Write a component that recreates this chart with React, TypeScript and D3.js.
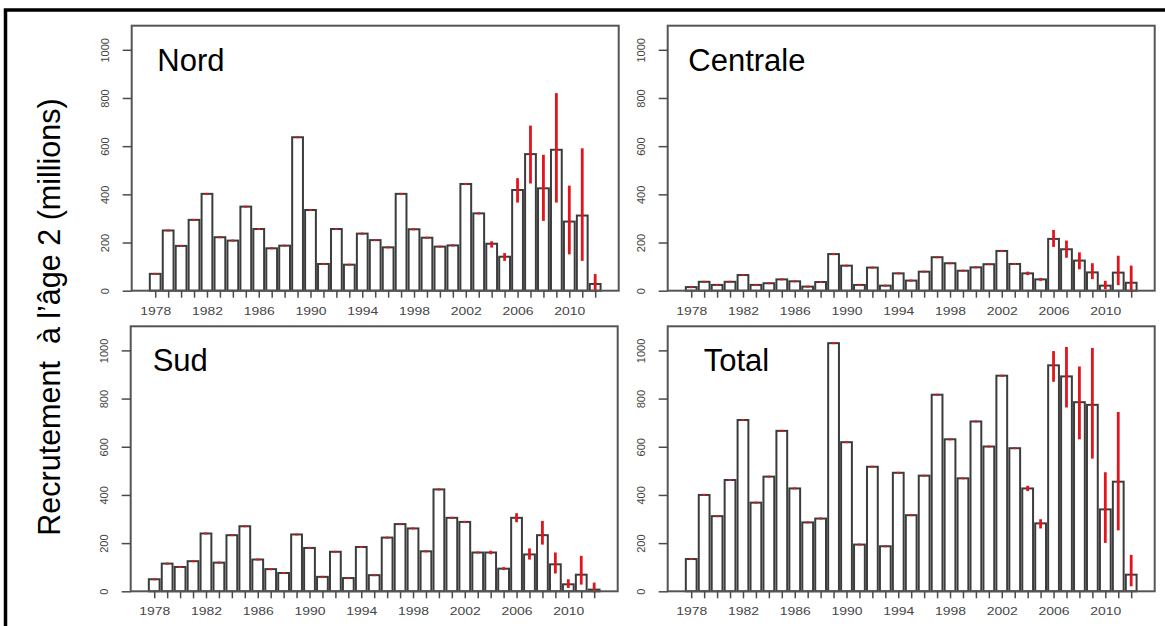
import React, { useEffect, useRef } from "react";
import * as d3 from "d3";

// years of the barplots (categories)
const years = [
  1978, 1979, 1980, 1981, 1982, 1983, 1984, 1985, 1986, 1987, 1988, 1989,
  1990, 1991, 1992, 1993, 1994, 1995, 1996, 1997, 1998, 1999, 2000, 2001,
  2002, 2003, 2004, 2005, 2006, 2007, 2008, 2009, 2010, 2011, 2012,
];
const labelYears = [1978, 1982, 1986, 1990, 1994, 1998, 2002, 2006, 2010];
const yTicks = [0, 200, 400, 600, 800, 1000];
// years that have a visible interval (red)
const errYears = [2004, 2005, 2006, 2007, 2008, 2009, 2010, 2011, 2012];

const nord = [
  70, 250, 186, 294, 402, 222, 208, 349, 256, 176, 187, 637, 335, 111, 256, 108,
  237, 210, 180, 402, 255, 220, 183, 188, 443, 321, 195, 141, 418, 567, 425, 585,
  287, 312, 28,
];
const nordLow = [183, 128, 370, 449, 294, 370, 155, 128, 0];
const nordHigh = [201, 152, 463, 681, 560, 816, 432, 587, 65];

const centrale = [
  15, 37, 24, 37, 65, 24, 31, 47, 39, 17, 36, 152, 104, 24, 96, 21, 72, 42, 79,
  139, 114, 83, 97, 110, 165, 111, 72, 47, 215, 172, 125, 76, 21, 75, 33,
];
const centraleLow = [69, 45, 186, 141, 93, 52, 10, 27, 0];
const centraleHigh = [75, 49, 248, 204, 155, 110, 37, 141, 100];

const sud = [
  50, 115, 101, 125, 240, 119, 233, 270, 132, 92, 76, 236, 180, 60, 164, 55, 184,
  67, 223, 279, 261, 166, 423, 305, 288, 161, 161, 94, 305, 153, 233, 112, 29, 69,
  7,
];
const sudLow = [158, 92, 291, 136, 198, 78, 18, 32, 0];
const sudHigh = [164, 96, 320, 174, 288, 157, 46, 143, 32];

const total = [
  134, 400, 312, 462, 711, 368, 476, 666, 427, 286, 302, 1030, 619, 194, 517, 187,
  492, 316, 480, 816, 631, 469, 705, 601, 895, 594, 427, 282, 938, 892, 785, 774,
  340, 455, 69,
];
const totalLow = [420, 265, 874, 767, 635, 555, 205, 257, 25];
const totalHigh = [434, 295, 993, 1010, 929, 1006, 490, 740, 147];

const panels = [
  { name: "Nord", values: nord, low: nordLow, high: nordHigh, left: 131.7, top: 25.7, titleDx: 25.6 },
  { name: "Centrale", values: centrale, low: centraleLow, high: centraleHigh, left: 667.7, top: 25.7, titleDx: 20.6 },
  { name: "Sud", values: sud, low: sudLow, high: sudHigh, left: 130.7, top: 326.3, titleDx: 22 },
  { name: "Total", values: total, low: totalLow, high: totalHigh, left: 667.7, top: 326.3, titleDx: 36 },
];

const font = "'Liberation Sans', Arial, Helvetica, sans-serif";

export default function App() {
  const svgRef = useRef<SVGSVGElement>(null);
  const width = 1165;
  const height = 626;
  const pw = 487; // panel width
  const ph = 265; // panel height

  useEffect(() => {
    const svg = d3.select(svgRef.current);
    svg.selectAll("*").remove();

    svg.append("rect").attr("width", width).attr("height", height).attr("fill", "#fff");

    panels.forEach((p) => {
      const x = d3
        .scaleLinear()
        .domain([1976.183, 2013.817])
        .range([p.left, p.left + pw]);
      const y = d3
        .scaleLinear()
        .domain([0, 1100])
        .range([p.top + ph, p.top]);
      const bw = (x(1979) - x(1978)) / 1.2;

      const g = svg.append("g");

      // bars
      g.selectAll("rect.bar")
        .data(years)
        .join("rect")
        .attr("class", "bar")
        .attr("x", (d) => x(d) - bw / 2)
        .attr("y", (d, i) => y(p.values[i]))
        .attr("width", bw)
        .attr("height", (d, i) => y(0) - y(p.values[i]))
        .attr("fill", "#fff")
        .attr("stroke", "#3c3c3c")
        .attr("stroke-width", 2);

      // red intervals (tiny ones sit on the bar top)
      g.selectAll("line.err")
        .data(years)
        .join("line")
        .attr("class", "err")
        .attr("x1", (d) => x(d))
        .attr("x2", (d) => x(d))
        .attr("y1", (d, i) => {
          const k = errYears.indexOf(d);
          const hi = k >= 0 ? p.high[k] : p.values[i];
          return y(hi) - 1;
        })
        .attr("y2", (d, i) => {
          const k = errYears.indexOf(d);
          const lo = k >= 0 ? p.low[k] : p.values[i];
          return y(lo) + 1;
        })
        .attr("stroke", "#e3141c")
        .attr("stroke-width", 2.8);

      // box
      g.append("rect")
        .attr("x", p.left)
        .attr("y", p.top)
        .attr("width", pw)
        .attr("height", ph)
        .attr("fill", "none")
        .attr("stroke", "#555")
        .attr("stroke-width", 2);

      // x axis
      const xa = g
        .append("g")
        .attr("transform", `translate(0,${p.top + ph})`)
        .call(
          d3
            .axisBottom(x)
            .tickValues(years)
            .tickSize(7)
            .tickSizeOuter(0)
            .tickFormat((d) => (labelYears.includes(+d) ? String(d) : ""))
        );
      xa.select(".domain").remove();
      xa.selectAll("line").attr("stroke", "#4a4a4a").attr("stroke-width", 1.5);
      xa.selectAll("text")
        .attr("y", 24)
        .attr("dy", null)
        .attr("fill", "#454545")
        .style("font-family", font)
        .style("font-size", "11px")
        .each(function () {
          const t = d3.select(this);
          if (t.text()) t.attr("textLength", 31).attr("lengthAdjust", "spacingAndGlyphs");
        });

      // y axis
      const ya = g
        .append("g")
        .attr("transform", `translate(${p.left},0)`)
        .call(
          d3
            .axisLeft(y)
            .tickValues(yTicks)
            .tickSize(9)
            .tickSizeOuter(0)
            .tickFormat(d3.format("d"))
        );
      ya.select(".domain").remove();
      ya.selectAll("line").attr("stroke", "#4a4a4a").attr("stroke-width", 1.5);
      ya.selectAll("text")
        .attr("x", 0)
        .attr("dy", null)
        .attr("text-anchor", "middle")
        .attr("transform", "translate(-23,0) rotate(-90)")
        .attr("fill", "#454545")
        .style("font-family", font)
        .style("font-size", "11px");

      // panel title
      g.append("text")
        .attr("x", p.left + p.titleDx)
        .attr("y", p.top + 45)
        .text(p.name)
        .style("font-family", font)
        .style("font-size", "31px")
        .attr("fill", "#000");
    });

    // y title
    svg
      .append("text")
      .attr("transform", "translate(60,317) rotate(-90)")
      .attr("text-anchor", "middle")
      .style("white-space", "pre")
      .style("font-family", font)
      .style("font-size", "30.5px")
      .attr("fill", "#000")
      .text("Recrutement  à l’âge 2 (millions)");

    // outer frame
    svg
      .append("rect")
      .attr("x", 5.5)
      .attr("y", 10)
      .attr("width", 1300)
      .attr("height", 800)
      .attr("fill", "none")
      .attr("stroke", "#000")
      .attr("stroke-width", 3.5);
  }, []);

  return (
    <svg
      ref={svgRef}
      width={width}
      height={height}
      style={{ position: "absolute", left: 0, top: 0 }}
    ></svg>
  );
}
